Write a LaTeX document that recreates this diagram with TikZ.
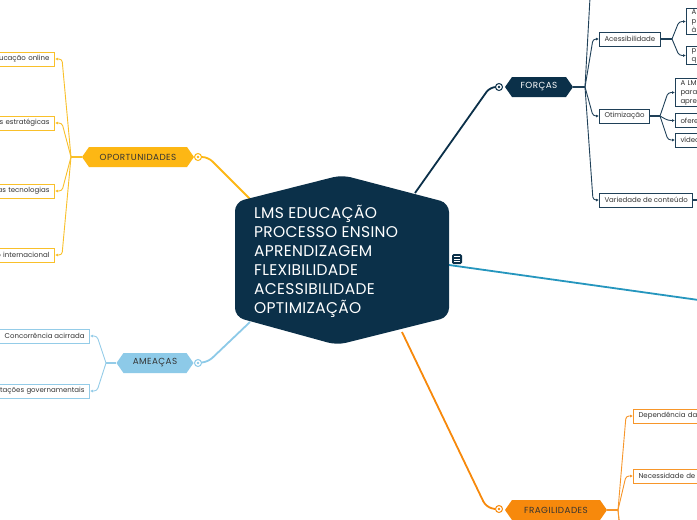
\documentclass[tikz,border=0pt]{standalone}
\usepackage{fontspec}
\setmainfont{Poppins}
\usepackage{xcolor}
\usetikzlibrary{positioning,calc,arrows.meta,shapes.symbols}

\definecolor{navy}{HTML}{0B3049}
\definecolor{navyline}{HTML}{1F4058}
\definecolor{amber}{HTML}{FDB714}
\definecolor{amberline}{HTML}{F9C02A}
\definecolor{sky}{HTML}{8DCAE8}
\definecolor{skyline}{HTML}{94CCE8}
\definecolor{orng}{HTML}{F7890C}
\definecolor{orngline}{HTML}{F7962A}
\definecolor{teal}{HTML}{2596BE}
\definecolor{ink}{HTML}{333333}

\tikzset{
  topic/.style={signal, signal to=east and west, signal pointer angle=110,
    minimum height=20pt, inner sep=1pt,
    font=\fontsize{8.8}{10}\selectfont\addfontfeature{LetterSpace=5}},
  leaf/.style={draw, fill=white, line width=1pt, inner xsep=5pt, inner ysep=2pt,
    minimum height=14pt, text=ink, font=\fontsize{7}{9}\selectfont},
  markdot/.style={circle, draw, fill=white, line width=1pt, minimum size=7pt, inner sep=0pt},
  link/.style={line width=0.9pt, rounded corners=3pt, -{Latex[length=3pt,width=3pt]}},
  main/.style={line width=1.8pt, rounded corners=6pt},
}

\begin{document}
\begin{tikzpicture}[x=1pt, y=-1pt]
  \useasboundingbox (0,0) rectangle (697,520);
  \clip (0,0) rectangle (697,520);
  \fill[white] (0,0) rectangle (697,520);

  % central topic
  \coordinate (cO) at (250,199);
  \coordinate (cA) at (250,322);
  \coordinate (cF) at (415,193);
  \coordinate (cR) at (402,332);
  \coordinate (cT) at (449,265);
  \draw[main, orng] (cR) -- (486,507) -- (495,509);
  \draw[main, amber] (cO) -- (208,157) -- (195,157);
  \draw[main, sky] (cA) -- (208,362) -- (195,363);
  \draw[main, navy] (cF) -- (490,87) -- (496,87);
  \draw[line width=1.8pt, teal] (cT) -- (720,303);
  \fill[navy, rounded corners=9pt] (235,202) -- (342,175) -- (449,203) -- (449,317)
    -- (337,345) -- (235,317) -- cycle;
  \node[anchor=west, align=left, text=white, inner sep=0pt,
    font=\fontsize{15.5}{19}\selectfont\addfontfeature{LetterSpace=2}] (lms) at (254,261)
    {LMS EDUCAÇÃO\\PROCESSO ENSINO\\APRENDIZAGEM\\FLEXIBILIDADE\\ACESSIBILIDADE\\OPTIMIZAÇÃO};
  \node[fill=navy, rounded corners=1.5pt, minimum size=10pt, inner sep=0pt] (note) at (457,259) {};
  \foreach \dy in {-2.3,0,2.3}
    \draw[white, line width=0.6pt] ($(note)+(-2.8,\dy)$) -- ($(note)+(2.8,\dy)$);

  % FORÇAS
  \node[topic, fill=navy, text=white, minimum width=68pt] (forcas) at (539,87) {FORÇAS};
  \node[markdot, draw=navy] (mF) at (499,87) {};
  \fill[navy] (mF) circle (1.3pt);
  \coordinate (bF) at (585,87);
  \node[leaf, draw=navyline, anchor=west] (acess) at (599,39) {Acessibilidade};
  \node[leaf, draw=navyline, anchor=west] (otim) at (599,116) {Otimização};
  \node[leaf, draw=navyline, anchor=west] (varied) at (599,200) {Variedade de conteúdo};
  \node[leaf, draw=navyline, anchor=west, text width=60pt, align=left] (ac1) at (686,21.5) {A\\p\\à};
  \node[leaf, draw=navyline, anchor=west, text width=60pt, align=left] (ac2) at (686,55.5) {p\\q};
  \node[leaf, draw=navyline, anchor=west, text width=60pt, align=left] (ot1) at (675,92.5) {A LM\\para\\apre};
  \node[leaf, draw=navyline, anchor=west, text width=60pt, align=left] (ot2) at (675,120.5) {ofere};
  \node[leaf, draw=navyline, anchor=west, text width=60pt, align=left] (ot3) at (675,140) {vídeo};
  \coordinate (upF) at (591,-20);
  \coordinate (offV) at (720,200);
  \draw[navyline, line width=1.2pt] (forcas.east) -- (bF);
  \draw[navyline, line width=0.9pt, rounded corners=3pt] (bF) -- (upF);
  \foreach \n in {acess,otim,varied}
    \draw[link, navyline] (bF) -- ($(\n.west)+(-6,0)$) -- (\n.west);
  \coordinate (bAc) at (672,39);
  \draw[navyline, line width=1.2pt] (acess.east) -- (bAc);
  \foreach \n in {ac1,ac2}
    \draw[link, navyline] (bAc) -- ($(\n.west)+(-7,0)$) -- (\n.west);
  \coordinate (bOt) at (660,116);
  \draw[navyline, line width=1.2pt] (otim.east) -- (bOt);
  \foreach \n in {ot1,ot2,ot3}
    \draw[link, navyline] (bOt) -- ($(\n.west)+(-7,0)$) -- (\n.west);
  \draw[navyline, line width=1.2pt] (varied.east) -- (offV);

  % OPORTUNIDADES
  \node[topic, fill=amber, text=ink, minimum width=112pt] (oport) at (138,157) {OPORTUNIDADES};
  \node[markdot, draw=amber] (mO) at (198,157) {};
  \fill[amber] (mO) circle (1.3pt);
  \coordinate (bO) at (71,157);
  \node[leaf, draw=amberline, anchor=east, text width=100pt, align=right] (op1) at (55,59) {ducação online};
  \node[leaf, draw=amberline, anchor=east, text width=100pt, align=right] (op2) at (55,123) {as estratégicas};
  \node[leaf, draw=amberline, anchor=east, text width=100pt, align=right] (op3) at (55,191) {as tecnologias};
  \node[leaf, draw=amberline, anchor=east, text width=100pt, align=right] (op4) at (55,255) {o internacional};
  \draw[amberline, line width=1.2pt] (oport.west) -- (bO);
  \foreach \n in {op1,op2,op3,op4}
    \draw[link, amberline] (bO) -- ($(\n.east)+(7,0)$) -- (\n.east);

  % AMEAÇAS
  \node[topic, fill=sky, text=ink, minimum width=77pt] (ameacas) at (155,363) {AMEAÇAS};
  \node[markdot, draw=sky] (mA) at (198,363) {};
  \fill[sky] (mA) circle (1.3pt);
  \coordinate (bA) at (106,363);
  \node[leaf, draw=skyline, anchor=east] (am1) at (90,336) {Concorrência acirrada};
  \node[leaf, draw=skyline, anchor=east, text width=120pt, align=right] (am2) at (90,391) {ntações governamentais};
  \coordinate (offA) at (-20,336);
  \draw[skyline, line width=1.2pt] (ameacas.west) -- (bA);
  \foreach \n in {am1,am2}
    \draw[link, skyline] (bA) -- ($(\n.east)+(7,0)$) -- (\n.east);
  \draw[skyline, line width=0.9pt] (am1.west) -- (offA);

  % FRAGILIDADES
  \node[topic, fill=orng, text=ink, minimum width=102pt] (frag) at (556,510) {FRAGILIDADES};
  \node[markdot, draw=orng] (mR) at (499,509) {};
  \fill[orng] (mR) circle (1.3pt);
  \coordinate (bR) at (618,510);
  \node[leaf, draw=orngline, anchor=west, text width=80pt, align=left] (fr1) at (633,416) {Dependência da t};
  \node[leaf, draw=orngline, anchor=west, text width=80pt, align=left] (fr2) at (633,476) {Necessidade de t};
  \coordinate (dnR1) at (622,545);
  \coordinate (dnR2) at (626,600);
  \draw[orngline, line width=1.2pt] (frag.east) -- (bR);
  \foreach \n in {fr1,fr2}
    \draw[link, orngline] (bR) -- ($(\n.west)+(-7,0)$) -- (\n.west);
  \draw[orngline, line width=0.9pt] (bR) -- (dnR1);
  \draw[orngline, line width=0.9pt] (bR) -- (dnR2);
\end{tikzpicture}
\end{document}
